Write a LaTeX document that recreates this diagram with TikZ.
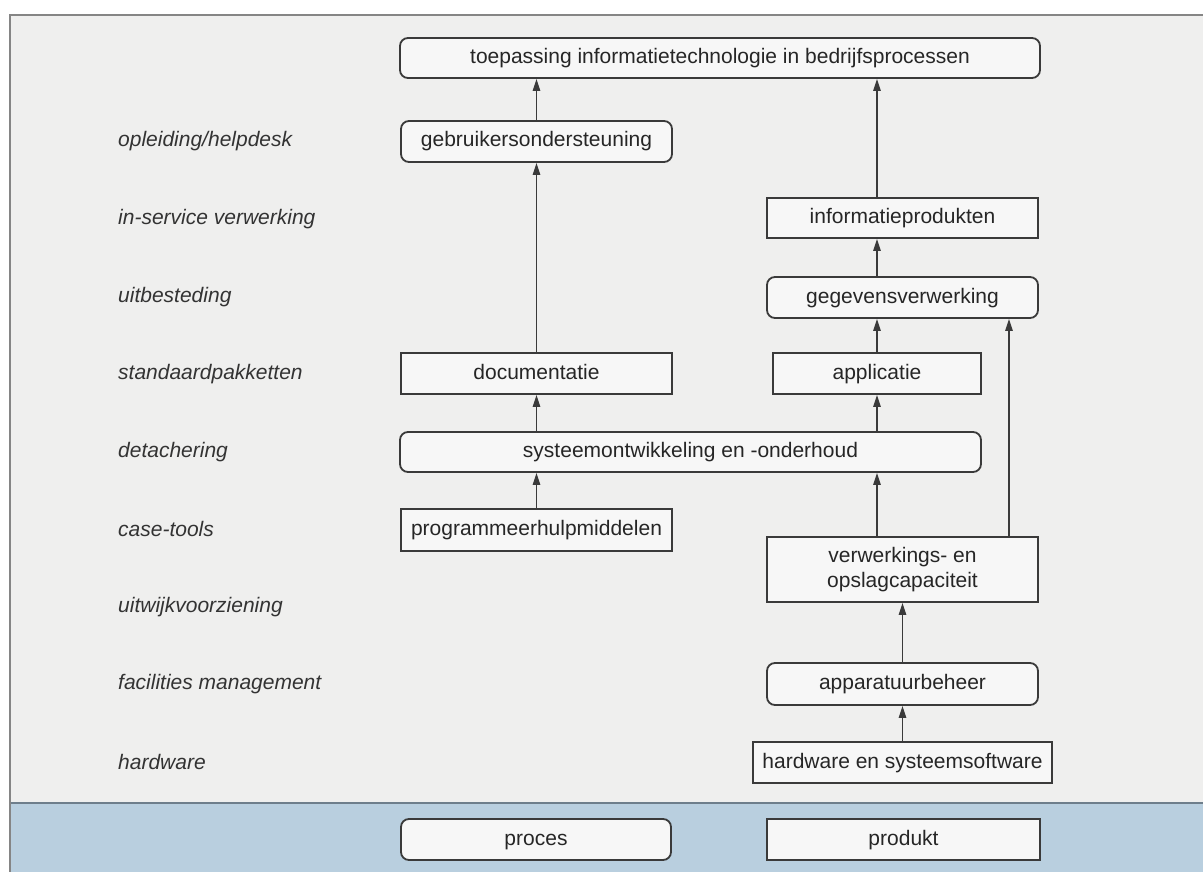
\documentclass[tikz,border=0pt]{standalone}
\usepackage{fontspec}
\setmainfont{Liberation Sans}
\usetikzlibrary{arrows.meta}
\definecolor{pagegrey}{HTML}{EFEFEE}
\definecolor{bandblue}{HTML}{B9CFDF}
\definecolor{bandline}{HTML}{6E7E8B}
\definecolor{framegrey}{HTML}{858585}
\definecolor{boxline}{HTML}{3A3A3A}
\tikzset{
  box/.style={draw=boxline, line width=1.8pt, fill=white!97!black, inner sep=0pt,
    align=center, font=\fontsize{21}{25}\selectfont, text=black!85,
    text height=15pt, text depth=4pt},
  rbox/.style={box, rounded corners=8pt},
  sbox/.style={box, sharp corners},
  lab/.style={anchor=west, inner sep=0pt, font=\fontsize{21}{25}\selectfont\itshape, text=black!80},
  arr/.style={draw=boxline, line width=1.4pt, -{Triangle[length=12pt,width=7.5pt]}}
}
\begin{document}
\begin{tikzpicture}[x=1pt,y=-1pt]
\useasboundingbox (0,0) rectangle (1203,872);
% page background, panel and blue band
\fill[white] (0,0) rectangle (1203,872);
\fill[pagegrey] (10,15) rectangle (1203,803);
\fill[bandblue] (10,803) rectangle (1203,872);
\draw[bandline, line width=2pt] (10,803) -- (1203,803);
\draw[framegrey, line width=2pt] (1203,15) -- (10,15) -- (10,872);

% service labels
\node[lab] (l1) at (118,141) {opleiding/helpdesk};
\node[lab] (l2) at (118,219) {in-service verwerking};
\node[lab] (l3) at (118,297) {uitbesteding};
\node[lab] (l4) at (118,374) {standaardpakketten};
\node[lab] (l5) at (118,452) {detachering};
\node[lab] (l6) at (118,529) {case-tools};
\node[lab] (l7) at (118,607) {uitwijkvoorziening};
\node[lab] (l8) at (118,684) {facilities management};
\node[lab] (l9) at (118,762) {hardware};

% boxes
\node[rbox, minimum width=640pt, minimum height=40pt] (top) at (720,58) {toepassing informatietechnologie in bedrijfsprocessen};
\node[rbox, minimum width=271pt, minimum height=41pt] (gebr) at (536.5,141.5) {gebruikersondersteuning};
\node[sbox, minimum width=271pt, minimum height=40pt] (info) at (902.5,218) {informatieprodukten};
\node[rbox, minimum width=271pt, minimum height=41pt] (gegev) at (902.5,297.5) {gegevensverwerking};
\node[sbox, minimum width=271pt, minimum height=41pt] (doc) at (536.5,373.5) {documentatie};
\node[sbox, minimum width=208pt, minimum height=41pt] (appl) at (877,373.5) {applicatie};
\node[rbox, minimum width=581pt, minimum height=40pt] (syst) at (690.5,452) {systeemontwikkeling en -onderhoud};
\node[sbox, minimum width=271pt, minimum height=42pt] (prog) at (536.5,530) {programmeerhulpmiddelen};
\node[sbox, minimum width=271pt, minimum height=65pt, text height=, text depth=] (verw) at (902.5,569.5) {verwerkings- en\\opslagcapaciteit};
\node[rbox, minimum width=271pt, minimum height=42pt] (appar) at (902.5,684) {apparatuurbeheer};
\node[sbox, minimum width=299pt, minimum height=41pt] (hw) at (902.5,762.5) {hardware en systeemsoftware};
\node[rbox, minimum width=270pt, minimum height=41pt] (proces) at (536,839.5) {proces};
\node[sbox, minimum width=273pt, minimum height=41pt] (produkt) at (903.5,839.5) {produkt};

% side route from capacity to data processing
\coordinate (side) at (1009,0);

% process column
\draw[arr] (gebr.north) -- (top.south -| gebr.north);
\draw[arr] (doc.north) -- (gebr.south);
\draw[arr] (syst.north -| doc.north) -- (doc.south);
\draw[arr] (prog.north) -- (syst.south -| prog.north);

% product column
\draw[arr] (info.north -| appl.north) -- (top.south -| appl.north);
\draw[arr] (gegev.north -| appl.north) -- (info.south -| appl.north);
\draw[arr] (appl.north) -- (gegev.south -| appl.north);
\draw[arr] (syst.north -| appl.north) -- (appl.south);
\draw[arr] (verw.north -| appl.north) -- (syst.south -| appl.north);
\draw[arr] (verw.north -| side) -- (gegev.south -| side);
\draw[arr] (appar.north) -- (verw.south);
\draw[arr] (hw.north) -- (appar.south);
\end{tikzpicture}
\end{document}
